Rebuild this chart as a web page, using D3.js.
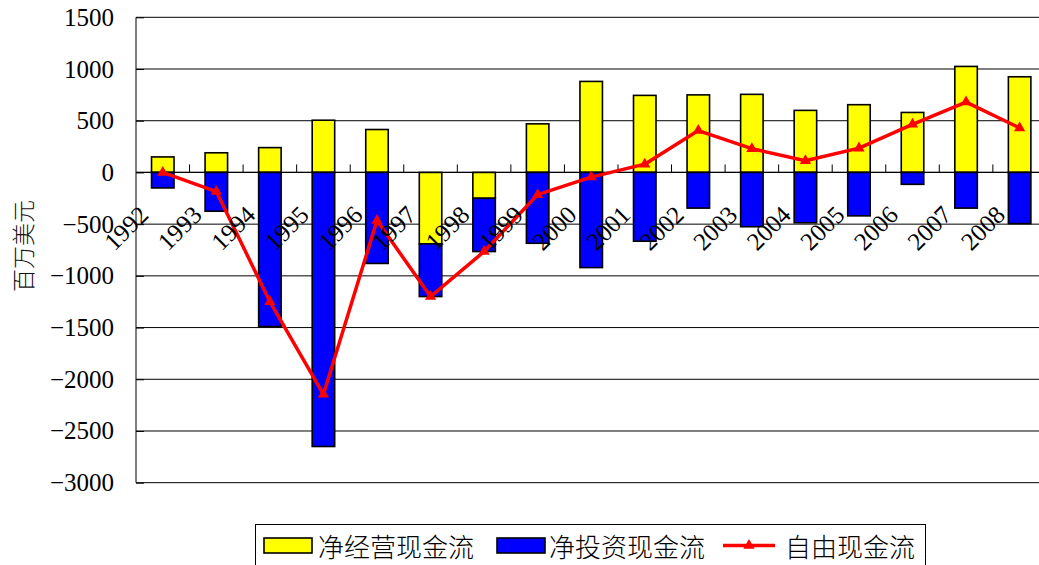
<!DOCTYPE html>
<html>
<head>
<meta charset="utf-8">
<script src="https://cdn.jsdelivr.net/npm/d3@7"></script>
<style>
  html, body { margin: 0; padding: 0; background: #fff; }
  svg { display: block; }
</style>
</head>
<body>
<svg id="chart" width="1039" height="565"></svg>
<script>
// Cash flow by year, in millions of US dollars
const years = ['1992','1993','1994','1995','1996','1997','1998','1999','2000',
               '2001','2002','2003','2004','2005','2006','2007','2008'];
const operatingCF = [150, 190, 240, 505, 415, -690, -250, 470, 880,
                     745, 750, 755, 600, 655, 580, 1025, 925];
const investingCF = [-150, -375, -1490, -2650, -880, -510, -515, -685, -920,
                     -665, -345, -525, -487, -420, -115, -345, -495];
const freeCF = [0, -185, -1250, -2145, -465, -1200, -765, -215, -45,
                80, 405, 230, 113, 235, 465, 680, 430];
const yTicks = [1500, 1000, 500, 0, -500, -1000, -1500, -2000, -2500, -3000];
const seriesNames = ['净经营现金流', '净投资现金流', '自由现金流'];
const yTitle = '百万美元';

const colors = { operating: '#FFFF00', investing: '#0000FF', free: '#FF0000' };
const serif = '"Liberation Serif"';
const cjk = '"Noto Sans CJK SC"';

const svg = d3.select('#chart');
const plot = { left: 136, right: 1046.4, top: 17.3, bottom: 482.7 };

const x = d3.scaleBand().domain(years).range([plot.left, plot.right]).padding(0);
const y = d3.scaleLinear().domain([-3000, 1500]).range([plot.bottom, plot.top]);
const barFrac = 0.42;
const barW = x.bandwidth() * barFrac;
const cx = d => x(d) + x.bandwidth() / 2;

// horizontal gridlines
svg.append('g')
  .selectAll('line')
  .data(yTicks)
  .join('line')
  .attr('x1', plot.left).attr('x2', plot.right)
  .attr('y1', d => y(d)).attr('y2', d => y(d))
  .attr('stroke', '#000').attr('stroke-width', 1);

// y axis with inward ticks
const yAxis = d3.axisRight(y).tickValues(yTicks).tickSize(8).tickFormat('');
const yg = svg.append('g').attr('transform', `translate(${plot.left},0)`).call(yAxis);
yg.select('.domain').attr('stroke', '#000').attr('d', `M0,${plot.top}V${plot.bottom}`);
yg.selectAll('.tick line').attr('stroke', '#000');

// y tick labels
svg.append('g')
  .selectAll('text')
  .data(yTicks)
  .join('text')
  .style('font-family', serif)
  .attr('x', 114)
  .attr('y', d => y(d))
  .attr('text-anchor', 'end')
  .attr('dominant-baseline', 'central')
  .attr('font-size', 25)
  .attr('fill', '#000')
  .text(d => d < 0 ? '\u2212' + Math.abs(d) : String(d));

// y axis title
svg.append('text')
  .style('font-family', cjk)
  .attr('transform', `translate(22,246) rotate(-90)`)
  .attr('text-anchor', 'middle')
  .attr('dominant-baseline', 'central')
  .attr('font-size', 23)
  .attr('font-weight', 300)
  .attr('fill', '#111')
  .text(yTitle);

// stacked bars
const rows = years.map((yr, i) => ({ year: yr, operating: operatingCF[i], investing: investingCF[i] }));
const stack = d3.stack().keys(['operating', 'investing']).offset(d3.stackOffsetDiverging);
const layers = stack(rows);

svg.append('g')
  .selectAll('g')
  .data(layers)
  .join('g')
  .attr('fill', d => colors[d.key])
  .selectAll('rect')
  .data(d => d)
  .join('rect')
  .attr('x', d => cx(d.data.year) - barW / 2)
  .attr('width', barW)
  .attr('y', d => y(Math.max(d[0], d[1])))
  .attr('height', d => Math.abs(y(d[0]) - y(d[1])))
  .attr('stroke', '#000')
  .attr('stroke-width', 1.6);

// category axis along zero with upward ticks at category boundaries
const y0 = y(0);
svg.append('line')
  .attr('x1', plot.left).attr('x2', plot.right)
  .attr('y1', y0).attr('y2', y0)
  .attr('stroke', '#000').attr('stroke-width', 1.2);
svg.append('g')
  .selectAll('line')
  .data(years.slice(1))
  .join('line')
  .attr('x1', d => x(d)).attr('x2', d => x(d))
  .attr('y1', y0).attr('y2', y0 - 8)
  .attr('stroke', '#000').attr('stroke-width', 1);

// free cash flow line
const line = d3.line().x((d, i) => cx(years[i])).y(d => y(d));
svg.append('path')
  .datum(freeCF)
  .attr('d', line)
  .attr('fill', 'none')
  .attr('stroke', colors.free)
  .attr('stroke-width', 3.5)
  .attr('stroke-linejoin', 'round');

const tri = d3.symbol().type(d3.symbolTriangle).size(55);
svg.append('g')
  .selectAll('path')
  .data(freeCF)
  .join('path')
  .attr('d', tri)
  .attr('transform', (d, i) => `translate(${cx(years[i])},${y(d)})`)
  .attr('fill', colors.free);

// year labels, rotated
svg.append('g')
  .selectAll('text')
  .data(years)
  .join('text')
  .style('font-family', serif)
  .attr('transform', d => `translate(${cx(d) - 19},${y0 + 38}) rotate(-45)`)
  .attr('text-anchor', 'end')
  .attr('dominant-baseline', 'central')
  .attr('font-size', 25)
  .attr('fill', '#000')
  .text(d => d);

// legend
const lg = svg.append('g');
lg.append('rect')
  .attr('x', 255.5).attr('y', 524.5)
  .attr('width', 670).attr('height', 42)
  .attr('fill', '#fff').attr('stroke', '#000').attr('stroke-width', 1);

const legendItems = [
  { name: seriesNames[0], kind: 'bar', color: colors.operating, sx: 264, tx: 318 },
  { name: seriesNames[1], kind: 'bar', color: colors.investing, sx: 497, tx: 549 },
  { name: seriesNames[2], kind: 'line', color: colors.free, sx: 723, tx: 785 }
];
const ly = 545.5;
legendItems.forEach(it => {
  if (it.kind === 'bar') {
    lg.append('rect')
      .attr('x', it.sx).attr('y', ly - 7.5)
      .attr('width', 48).attr('height', 15)
      .attr('fill', it.color).attr('stroke', '#000').attr('stroke-width', 1.6);
  } else {
    lg.append('line')
      .attr('x1', it.sx).attr('x2', it.sx + 52)
      .attr('y1', ly).attr('y2', ly)
      .attr('stroke', it.color).attr('stroke-width', 3.5);
    lg.append('path')
      .attr('d', tri)
      .attr('transform', `translate(${it.sx + 26},${ly})`)
      .attr('fill', it.color);
  }
  lg.append('text')
    .style('font-family', cjk)
    .attr('x', it.tx).attr('y', ly)
    .attr('dominant-baseline', 'central')
    .attr('font-size', 26)
    .attr('font-weight', 300)
    .attr('fill', '#000')
    .text(it.name);
});
</script>
</body>
</html>
